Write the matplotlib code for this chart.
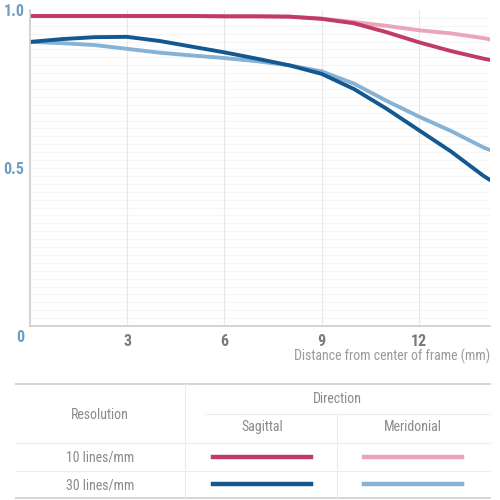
import matplotlib.pyplot as plt
from matplotlib.lines import Line2D
import numpy as np

# MTF curves (x in mm from frame centre)
distance = [0, 1, 2, 3, 4, 5, 6, 7, 8, 9, 10, 11, 12, 13, 14, 14.2]
sag_10 = [0.981, 0.981, 0.981, 0.981, 0.981, 0.981, 0.980, 0.980, 0.979, 0.972,
          0.958, 0.930, 0.898, 0.870, 0.846, 0.842]
mer_10 = [0.981, 0.981, 0.981, 0.981, 0.981, 0.981, 0.980, 0.980, 0.979, 0.973,
          0.962, 0.950, 0.936, 0.926, 0.911, 0.907]
sag_30 = [0.899, 0.908, 0.914, 0.915, 0.902, 0.884, 0.866, 0.846, 0.825, 0.798,
          0.750, 0.688, 0.620, 0.552, 0.475, 0.462]
mer_30 = [0.899, 0.895, 0.889, 0.877, 0.865, 0.856, 0.848, 0.838, 0.825, 0.806,
          0.767, 0.713, 0.663, 0.617, 0.565, 0.557]

x_ticks = [3, 6, 9, 12]
y_ticks = [0.5, 1.0]
resolutions = ["10 lines/mm", "30 lines/mm"]
directions = ["Sagittal", "Meridonial"]

C_SAG10 = "#c03c64"
C_MER10 = "#eaa5b9"
C_SAG30 = "#135891"
C_MER30 = "#86b2d6"
GREY_TXT = "#8a8a8a"

plt.rcParams["font.family"] = ["Roboto Condensed", "Liberation Sans Narrow",
                               "Liberation Sans", "DejaVu Sans"]

fig = plt.figure(figsize=(5, 5), dpi=100)
ax = fig.add_axes([0.06, 0.348, 0.92, 0.632])

# faint horizontal grid + vertical grid at the ticks
for yv in np.arange(0.025, 1.0, 0.025):
    ax.axhline(yv, color="#f6f6f6", lw=0.8, zorder=0)
for xv in x_ticks:
    ax.axvline(xv, color="#e8e8e8", lw=0.8, zorder=0)

ax.plot(distance, mer_10, color=C_MER10, lw=2.8, solid_capstyle="round")
ax.plot(distance, sag_10, color=C_SAG10, lw=2.8, solid_capstyle="round")
ax.plot(distance, mer_30, color=C_MER30, lw=2.8, solid_capstyle="round")
ax.plot(distance, sag_30, color=C_SAG30, lw=2.8, solid_capstyle="round")

ax.set_xlim(0, 14.2)
ax.set_ylim(0, 1.0)
for s in ["top", "right"]:
    ax.spines[s].set_visible(False)
for s in ["left", "bottom"]:
    ax.spines[s].set_color("#d0d0d0")
    ax.spines[s].set_linewidth(1.3)

ax.set_xticks(x_ticks)
ax.set_xticklabels([str(v) for v in x_ticks], fontsize=11.5, color="#7a7a7a",
                   fontweight="bold")
ax.set_yticks(y_ticks)
ax.set_yticklabels([f"{v:.1f}" for v in y_ticks], fontsize=11.5, color="#6f9fc0",
                   fontweight="bold")
ax.tick_params(axis="x", length=0, pad=6)
ax.tick_params(axis="y", length=0, pad=4)
ax.text(-0.022, -0.035, "0", transform=ax.transAxes, ha="center", va="center",
        fontsize=11.5, color="#6f9fc0", fontweight="bold")
fig.text(0.98, 0.288, "Distance from center of frame (mm)", ha="right",
         va="center", fontsize=10, color="#9a9a9a")

# ── legend table ──────────────────────────────────────────────────────────────
def hline(y, x0, x1, color, lw):
    fig.add_artist(Line2D([x0 / 500, x1 / 500], [1 - y / 500, 1 - y / 500],
                          color=color, lw=lw))


def vline(x, y0, y1, color, lw):
    fig.add_artist(Line2D([x / 500, x / 500], [1 - y0 / 500, 1 - y1 / 500],
                          color=color, lw=lw))


def ftext(x, y, s):
    fig.text(x / 500, 1 - y / 500, s, ha="center", va="center", fontsize=10,
             color=GREY_TXT)


hline(384, 16, 490, "#d4d4d4", 1.4)
hline(414, 205, 490, "#ececec", 0.8)
hline(443, 16, 490, "#ececec", 0.8)
hline(471, 16, 490, "#ececec", 0.8)
hline(498, 16, 490, "#d4d4d4", 1.4)
vline(185, 384, 498, "#ececec", 0.8)
vline(337, 414, 498, "#ececec", 0.8)

ftext(100, 415, "Resolution")
ftext(337, 399, "Direction")
col_x = [262, 413]
row_y = [458, 485]
for cx, d in zip(col_x, directions):
    ftext(cx, 427, d)
for ry, r in zip(row_y, resolutions):
    ftext(100, ry, r)

sample_colors = [[C_SAG10, C_MER10], [C_SAG30, C_MER30]]
for ry, cols in zip(row_y, sample_colors):
    for cx, c in zip(col_x, cols):
        hline(ry - 1, cx - 49, cx + 49, c, 3.2)

fig.savefig("out.png", dpi=100, facecolor="white")
